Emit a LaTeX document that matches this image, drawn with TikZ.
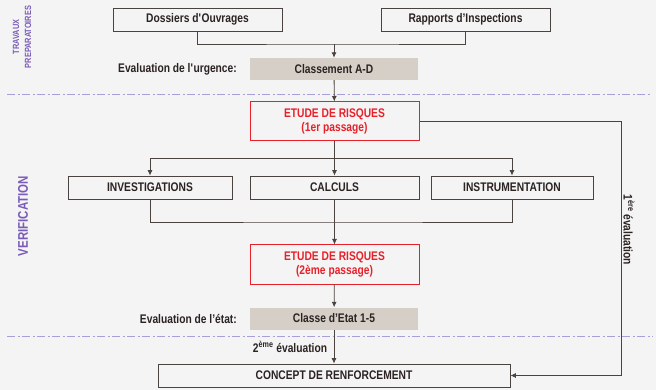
\documentclass[tikz,border=0pt]{standalone}
\usepackage{fontspec}
\setmainfont{Liberation Sans}[FakeStretch=0.82]
\usetikzlibrary{arrows.meta}
\definecolor{linegray}{HTML}{4A4340}
\definecolor{textdark}{HTML}{2B2222}
\definecolor{riskred}{HTML}{E8202A}
\definecolor{classgray}{HTML}{D5CFC7}
\definecolor{phasepurple}{HTML}{7A5CB8}
\definecolor{seppurple}{HTML}{A99ED8}
\definecolor{bggray}{HTML}{F4F4F4}
\begin{document}
\begin{tikzpicture}[x=1pt, y=-1pt,
        every node/.style={font=\fontsize{12.5}{14}\selectfont\bfseries, text=textdark, align=center, inner sep=0pt},
        box/.style={draw=linegray, line width=0.8pt, minimum height=23pt},
        riskbox/.style={draw=riskred, line width=1pt, text=riskred, minimum width=169pt, minimum height=39pt},
        classbox/.style={fill=classgray, minimum width=168pt, minimum height=22pt},
        link/.style={draw=linegray, line width=0.8pt},
        arr/.style={link, -{Latex[length=5.5pt,width=5pt]}},
        phase/.style={text=phasepurple, rotate=90},
        sep/.style={draw=seppurple, line width=1pt, dash pattern=on 8pt off 2.5pt on 2pt off 2.5pt}
    ]
        \fill[bggray] (0,0) rectangle (656,390);
        % travaux preparatoires
        \node[box, minimum width=169pt] (dossiers) at (197.5,19.5) {Dossiers d\textquotesingle Ouvrages};
        \node[box, minimum width=169pt] (rapports) at (465.5,19.5) {Rapports d’Inspections};
        \node[classbox] (classAD) at (334,69) {Classement A-D};
        \node[anchor=east] (urgence) at (237,69) {Evaluation de l\textquotesingle urgence:};
        \node[phase, font=\fontsize{9}{12}\selectfont\bfseries] (travaux) at (22,37) {TRAVAUX\\PREPARATOIRES};
        \coordinate (merge1) at (334,44);
        \draw[link] (dossiers.south) |- (merge1) -| (rapports.south);
        \draw[arr] (merge1) -- (classAD.north);
        \draw[sep] (7,95) -- (650,95);
        % verification
        \node[riskbox] (etude1) at (334.5,121.5) {ETUDE DE RISQUES\\(1er passage)};
        \node[box, minimum width=164pt] (invest)  at (150,187.5) {INVESTIGATIONS};
        \node[box, minimum width=169pt] (calculs) at (334.5,187.5) {CALCULS};
        \node[box, minimum width=162pt] (instru)  at (512,187.5) {INSTRUMENTATION};
        \node[riskbox] (etude2) at (334.5,264.5) {ETUDE DE RISQUES\\(2ème passage)};
        \node[classbox] (classEtat) at (334,318.5) {Classe d’Etat 1-5};
        \node[anchor=east] (etat) at (237,318.5) {Evaluation de l’état:};
        \node[phase, font=\fontsize{14}{16}\selectfont\bfseries] (verif) at (23,216) {VERIFICATION};
        \draw[arr] (classAD) -- (etude1);
        \coordinate (split) at (334.5,158);
        \draw[link] (etude1.south) -- (split);
        \draw[arr] (split) -| (invest.north);
        \draw[arr] (split) -| (instru.north);
        \draw[arr] (split) -- (calculs.north);
        \coordinate (merge2) at (334.5,222);
        \draw[link] (invest.south) |- (merge2) -| (instru.south);
        \draw[link] (calculs.south) -- (merge2);
        \draw[arr] (merge2) -- (etude2.north);
        \draw[arr] (etude2) -- (classEtat);
        \draw[sep] (7,336) -- (653,336);
        % renforcement
        \node[box, minimum width=352pt] (concept) at (334,375.5) {CONCEPT DE RENFORCEMENT};
        \node (eval2) at (290,347) {2\textsuperscript{ème} évaluation};
        \node[rotate=-90] (eval1) at (629,230) {1\textsuperscript{ère} évaluation};
        \draw[arr] (classEtat) -- (concept);
        \coordinate (loop) at (621,121.5);
        \draw[arr] (etude1.east) -- (loop) |- (concept.east);
    \end{tikzpicture}
\end{document}
